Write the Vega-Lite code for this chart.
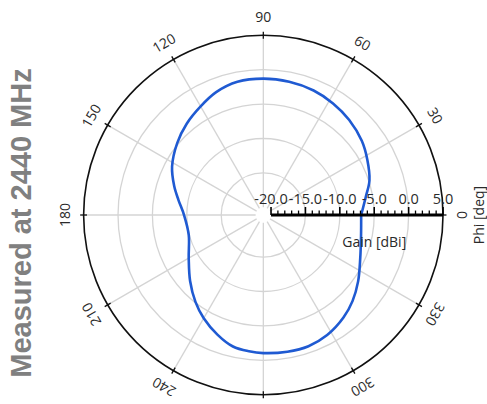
{
  "$schema": "https://vega.github.io/schema/vega-lite/v6.json",
  "width": 442,
  "height": 404,
  "autosize": {"type": "none"},
  "padding": {"left": 45, "top": 0, "right": 0, "bottom": 0},
  "background": "white",
  "config": {"view": {"stroke": null}, "text": {"font": "Open Sans", "fontSize": 14, "color": "#2a2a2a"}},
  "title": {"text": "Measured at 2440 MHz", "orient": "left", "anchor": "middle", "fontSize": 29, "font": "Liberation Sans", "fontWeight": "bold", "color": "#808080", "offset": 8, "dx": -21},
  "datasets": {
    "pattern": [
      {"phi": 0, "gain": -6.9}, {"phi": 10, "gain": -6.0}, {"phi": 18, "gain": -4.9}, {"phi": 28, "gain": -4.0},
      {"phi": 37, "gain": -3.2}, {"phi": 48, "gain": -2.5}, {"phi": 58, "gain": -2.0}, {"phi": 68, "gain": -1.6},
      {"phi": 79, "gain": -1.4}, {"phi": 90, "gain": -1.3}, {"phi": 101, "gain": -1.4}, {"phi": 111, "gain": -2.0},
      {"phi": 120, "gain": -2.9}, {"phi": 130, "gain": -3.8}, {"phi": 140, "gain": -4.8}, {"phi": 152, "gain": -6.1},
      {"phi": 162, "gain": -7.5}, {"phi": 170, "gain": -8.6}, {"phi": 180, "gain": -9.6}, {"phi": 195, "gain": -9.9},
      {"phi": 210, "gain": -8.6}, {"phi": 222, "gain": -6.8}, {"phi": 232, "gain": -5.1}, {"phi": 240, "gain": -3.8},
      {"phi": 249, "gain": -2.5}, {"phi": 257, "gain": -1.5}, {"phi": 264, "gain": -1.2}, {"phi": 270, "gain": -1.05},
      {"phi": 280, "gain": -0.95}, {"phi": 289, "gain": -0.95}, {"phi": 298, "gain": -1.35}, {"phi": 308, "gain": -2.2},
      {"phi": 316, "gain": -3.1}, {"phi": 325, "gain": -4.3}, {"phi": 336, "gain": -5.7}, {"phi": 348, "gain": -6.6},
      {"phi": 360, "gain": -6.9}
    ],
    "angles": [
      {"phi": 0, "label": "0"}, {"phi": 30, "label": "30"}, {"phi": 60, "label": "60"}, {"phi": 90, "label": "90"},
      {"phi": 120, "label": "120"}, {"phi": 150, "label": "150"}, {"phi": 180, "label": "180"}, {"phi": 210, "label": "210"},
      {"phi": 240, "label": "240"}, {"phi": 270, "label": "270"}, {"phi": 300, "label": "300"}, {"phi": 330, "label": "330"}
    ],
    "rings": [{"gain": -15}, {"gain": -10}, {"gain": -5}, {"gain": 0}],
    "outer": [{"gain": 5}],
    "rticks": [
      {"gain": -20, "major": true, "label": "-20.0"}, {"gain": -19, "major": false}, {"gain": -18, "major": false}, {"gain": -17, "major": false}, {"gain": -16, "major": false},
      {"gain": -15, "major": true, "label": "-15.0"}, {"gain": -14, "major": false}, {"gain": -13, "major": false}, {"gain": -12, "major": false}, {"gain": -11, "major": false},
      {"gain": -10, "major": true, "label": "-10.0"}, {"gain": -9, "major": false}, {"gain": -8, "major": false}, {"gain": -7, "major": false}, {"gain": -6, "major": false},
      {"gain": -5, "major": true, "label": "-5.0"}, {"gain": -4, "major": false}, {"gain": -3, "major": false}, {"gain": -2, "major": false}, {"gain": -1, "major": false},
      {"gain": 0, "major": true, "label": "0.0"}, {"gain": 1, "major": false}, {"gain": 2, "major": false}, {"gain": 3, "major": false}, {"gain": 4, "major": false},
      {"gain": 5, "major": true, "label": "5.0"}
    ]
  },
  "layer": [
    {
      "data": {"name": "rings"},
      "transform": [{"calculate": "datum.gain + 21.12", "as": "rr"}, {"calculate": "0", "as": "x"}, {"calculate": "0", "as": "y"}],
      "mark": {"type": "point", "shape": "circle", "filled": false, "stroke": "#d4d4d4", "strokeWidth": 1.3, "opacity": 1},
      "encoding": {
        "x": {"field": "x", "type": "quantitative", "scale": {"domain": [-31.73, 32.51], "nice": false, "zero": false}, "axis": null},
        "y": {"field": "y", "type": "quantitative", "scale": {"domain": [-27.47, 31.25], "nice": false, "zero": false}, "axis": null},
        "size": {"field": "rr", "type": "quantitative", "scale": {"type": "pow", "exponent": 2, "domain": [0, 26.12], "range": [0, 129169]}, "legend": null}
      }
    },
    {
      "data": {"name": "angles"},
      "transform": [
        {"calculate": "1.12 * cos(datum.phi * PI / 180)", "as": "x"},
        {"calculate": "1.12 * sin(datum.phi * PI / 180)", "as": "y"},
        {"calculate": "26.12 * cos(datum.phi * PI / 180)", "as": "x2"},
        {"calculate": "26.12 * sin(datum.phi * PI / 180)", "as": "y2"}
      ],
      "mark": {"type": "rule", "stroke": "#d4d4d4", "strokeWidth": 1.3},
      "encoding": {
        "x": {"field": "x", "type": "quantitative", "scale": {"domain": [-31.73, 32.51], "nice": false, "zero": false}, "axis": null},
        "y": {"field": "y", "type": "quantitative", "scale": {"domain": [-27.47, 31.25], "nice": false, "zero": false}, "axis": null},
        "x2": {"field": "x2"},
        "y2": {"field": "y2"}
      }
    },
    {
      "data": {"name": "outer"},
      "transform": [{"calculate": "datum.gain + 21.12", "as": "rr"}, {"calculate": "0", "as": "x"}, {"calculate": "0", "as": "y"}],
      "mark": {"type": "point", "shape": "circle", "filled": false, "stroke": "#111111", "strokeWidth": 1.6, "opacity": 1},
      "encoding": {
        "x": {"field": "x", "type": "quantitative", "scale": {"domain": [-31.73, 32.51], "nice": false, "zero": false}, "axis": null},
        "y": {"field": "y", "type": "quantitative", "scale": {"domain": [-27.47, 31.25], "nice": false, "zero": false}, "axis": null},
        "size": {"field": "rr", "type": "quantitative", "scale": {"type": "pow", "exponent": 2, "domain": [0, 26.12], "range": [0, 129169]}, "legend": null}
      }
    },
    {
      "data": {"name": "angles"},
      "transform": [
        {"calculate": "25.62 * cos(datum.phi * PI / 180)", "as": "x"},
        {"calculate": "25.62 * sin(datum.phi * PI / 180)", "as": "y"},
        {"calculate": "26.62 * cos(datum.phi * PI / 180)", "as": "x2"},
        {"calculate": "26.62 * sin(datum.phi * PI / 180)", "as": "y2"}
      ],
      "mark": {"type": "rule", "stroke": "#111111", "strokeWidth": 1.3},
      "encoding": {
        "x": {"field": "x", "type": "quantitative", "scale": {"domain": [-31.73, 32.51], "nice": false, "zero": false}, "axis": null},
        "y": {"field": "y", "type": "quantitative", "scale": {"domain": [-27.47, 31.25], "nice": false, "zero": false}, "axis": null},
        "x2": {"field": "x2"},
        "y2": {"field": "y2"}
      }
    },
    {
      "data": {"name": "angles"},
      "transform": [
        {"filter": "datum.phi != 270"},
        {"calculate": "28.7 * cos(datum.phi * PI / 180)", "as": "x"},
        {"calculate": "28.7 * sin(datum.phi * PI / 180)", "as": "y"},
        {"calculate": "(450 - datum.phi) % 360", "as": "ang"}
      ],
      "mark": {"type": "text", "align": "center", "baseline": "middle", "fontSize": 14},
      "encoding": {
        "x": {"field": "x", "type": "quantitative", "scale": {"domain": [-31.73, 32.51], "nice": false, "zero": false}, "axis": null},
        "y": {"field": "y", "type": "quantitative", "scale": {"domain": [-27.47, 31.25], "nice": false, "zero": false}, "axis": null},
        "text": {"field": "label"},
        "angle": {"field": "ang", "type": "quantitative", "scale": null}
      }
    },
    {
      "data": {"name": "pattern"},
      "transform": [
        {"calculate": "datum.gain + 21.12", "as": "rr"},
        {"calculate": "datum.rr * cos(datum.phi * PI / 180)", "as": "x"},
        {"calculate": "datum.rr * sin(datum.phi * PI / 180)", "as": "y"}
      ],
      "mark": {"type": "line", "interpolate": "catmull-rom", "stroke": "#1f5ad2", "strokeWidth": 2.6},
      "encoding": {
        "x": {"field": "x", "type": "quantitative", "scale": {"domain": [-31.73, 32.51], "nice": false, "zero": false}, "axis": null},
        "y": {"field": "y", "type": "quantitative", "scale": {"domain": [-27.47, 31.25], "nice": false, "zero": false}, "axis": null},
        "order": {"field": "phi", "type": "quantitative"}
      }
    },
    {
      "data": {"name": "rticks"},
      "transform": [
        {"calculate": "datum.gain + 21.12", "as": "rr"},
        {"aggregate": [{"op": "min", "field": "rr", "as": "x"}, {"op": "max", "field": "rr", "as": "x2"}]},
        {"calculate": "0", "as": "y"}
      ],
      "mark": {"type": "rule", "stroke": "#000000", "strokeWidth": 3.2},
      "encoding": {
        "x": {"field": "x", "type": "quantitative", "scale": {"domain": [-31.73, 32.51], "nice": false, "zero": false}, "axis": null},
        "y": {"field": "y", "type": "quantitative", "scale": {"domain": [-27.47, 31.25], "nice": false, "zero": false}, "axis": null},
        "x2": {"field": "x2"}
      }
    },
    {
      "data": {"name": "rticks"},
      "transform": [
        {"filter": "datum.major"},
        {"calculate": "datum.gain + 21.12", "as": "x"},
        {"calculate": "0", "as": "y"}
      ],
      "mark": {"type": "tick", "orient": "vertical", "size": 8, "thickness": 1.6, "yOffset": -4, "color": "#000000", "opacity": 1},
      "encoding": {
        "x": {"field": "x", "type": "quantitative", "scale": {"domain": [-31.73, 32.51], "nice": false, "zero": false}, "axis": null},
        "y": {"field": "y", "type": "quantitative", "scale": {"domain": [-27.47, 31.25], "nice": false, "zero": false}, "axis": null}
      }
    },
    {
      "data": {"name": "rticks"},
      "transform": [
        {"filter": "!datum.major"},
        {"calculate": "datum.gain + 21.12", "as": "x"},
        {"calculate": "0", "as": "y"}
      ],
      "mark": {"type": "tick", "orient": "vertical", "size": 4.5, "thickness": 1.3, "yOffset": -2.2, "color": "#000000", "opacity": 1},
      "encoding": {
        "x": {"field": "x", "type": "quantitative", "scale": {"domain": [-31.73, 32.51], "nice": false, "zero": false}, "axis": null},
        "y": {"field": "y", "type": "quantitative", "scale": {"domain": [-27.47, 31.25], "nice": false, "zero": false}, "axis": null}
      }
    },
    {
      "data": {"name": "rticks"},
      "transform": [
        {"filter": "datum.major"},
        {"calculate": "datum.gain + 21.12", "as": "x"},
        {"calculate": "0", "as": "y"}
      ],
      "mark": {"type": "text", "align": "center", "baseline": "middle", "dy": -15, "fontSize": 14.5},
      "encoding": {
        "x": {"field": "x", "type": "quantitative", "scale": {"domain": [-31.73, 32.51], "nice": false, "zero": false}, "axis": null},
        "y": {"field": "y", "type": "quantitative", "scale": {"domain": [-27.47, 31.25], "nice": false, "zero": false}, "axis": null},
        "text": {"field": "label"}
      }
    },
    {
      "data": {"values": [{"gain": -5, "label": "Gain [dBi]"}]},
      "transform": [
        {"calculate": "datum.gain + 21.12", "as": "x"},
        {"calculate": "0", "as": "y"}
      ],
      "mark": {"type": "text", "align": "center", "baseline": "middle", "dy": 28, "fontSize": 14},
      "encoding": {
        "x": {"field": "x", "type": "quantitative", "scale": {"domain": [-31.73, 32.51], "nice": false, "zero": false}, "axis": null},
        "y": {"field": "y", "type": "quantitative", "scale": {"domain": [-27.47, 31.25], "nice": false, "zero": false}, "axis": null},
        "text": {"field": "label"}
      }
    },
    {
      "data": {"values": [{"phi": 0, "label": "Phi [deq]"}]},
      "transform": [
        {"calculate": "31.5 * cos(datum.phi * PI / 180)", "as": "x"},
        {"calculate": "31.5 * sin(datum.phi * PI / 180)", "as": "y"}
      ],
      "mark": {"type": "text", "align": "center", "baseline": "middle", "angle": 270, "fontSize": 14},
      "encoding": {
        "x": {"field": "x", "type": "quantitative", "scale": {"domain": [-31.73, 32.51], "nice": false, "zero": false}, "axis": null},
        "y": {"field": "y", "type": "quantitative", "scale": {"domain": [-27.47, 31.25], "nice": false, "zero": false}, "axis": null},
        "text": {"field": "label"}
      }
    }
  ]
}
